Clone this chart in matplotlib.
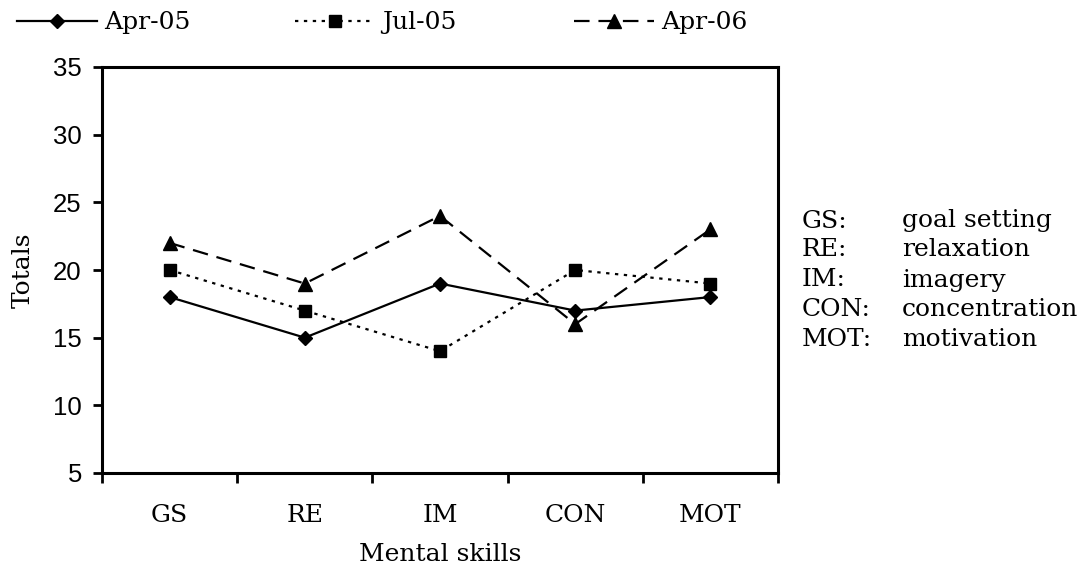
import matplotlib
matplotlib.use("Agg")
import matplotlib.pyplot as plt
from matplotlib.lines import Line2D

categories = ["GS", "RE", "IM", "CON", "MOT"]
apr05 = [18, 15, 19, 17, 18]
jul05 = [20, 17, 14, 20, 19]
apr06 = [22, 19, 24, 16, 23]
series_names = ["Apr-05", "Jul-05", "Apr-06"]
yticks = [5, 10, 15, 20, 25, 30, 35]
abbrevs = ["GS:", "RE:", "IM:", "CON:", "MOT:"]
meanings = ["goal setting", "relaxation", "imagery", "concentration", "motivation"]

serif = "DejaVu Serif"
W, H = 1091, 569
fig = plt.figure(figsize=(W / 100, H / 100), dpi=100)
ax = fig.add_axes([102 / W, 1 - 473 / H, 676 / W, 406 / H])

x = list(range(len(categories)))
l1, = ax.plot(x, apr05, color="black", lw=1.6, ls="-", marker="D", ms=7.5)
l2, = ax.plot(x, jul05, color="black", lw=1.6, ls=(0, (1.5, 2.5)), marker="s", ms=8.5)
l3, = ax.plot(x, apr06, color="black", lw=1.6, ls=(0, (7, 4)), marker="^", ms=9.5)

ax.set_xlim(-0.5, len(categories) - 0.5)
ax.set_ylim(5, 35)
ax.set_yticks(yticks)
ax.set_yticklabels([str(v) for v in yticks], fontsize=18.5, family="Liberation Sans")
ax.set_xticks([i - 0.5 for i in range(len(categories) + 1)])
ax.set_xticklabels([])
ax.set_xticks(x, minor=True)
ax.set_xticklabels(categories, minor=True, fontsize=18, family=serif)
ax.tick_params(axis="x", which="minor", length=0, pad=22)
ax.tick_params(axis="x", which="major", length=7, width=2, direction="out")
ax.tick_params(axis="y", length=6.5, width=2, direction="out", pad=8)
for s in ax.spines.values():
    s.set_linewidth(2.2)

ax.set_xlabel("Mental skills", fontsize=18, family=serif)
ax.xaxis.set_label_coords(0.5, -0.172)
ax.set_ylabel("Totals", fontsize=18, family=serif)
ax.yaxis.set_label_coords(-0.1, 0.5)

handles = [l1, l2, l3]
leg_x = [17, 295, 574]
for h, name, lx in zip(handles, series_names, leg_x):
    lg = fig.legend([h], [name], loc="center left",
                    bbox_to_anchor=(lx / W, 1 - 23 / H), frameon=False,
                    prop={"family": serif, "size": 18}, handlelength=3.2,
                    handletextpad=0.3, borderpad=0, borderaxespad=0)

rows_y = [221, 250, 280, 310, 340]
for a, m, ry in zip(abbrevs, meanings, rows_y):
    fig.text(802 / W, 1 - ry / H, a, fontsize=18, family=serif, va="center")
    fig.text(902 / W, 1 - ry / H, m, fontsize=18, family=serif, va="center")

fig.savefig("out.png", dpi=100)
